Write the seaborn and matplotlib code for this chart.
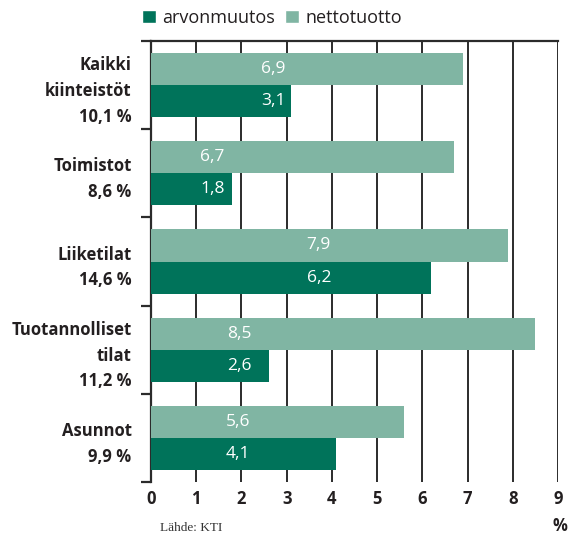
import pandas as pd
import numpy as np
import matplotlib.pyplot as plt
import seaborn as sns
from matplotlib.patches import Patch

# data
kategoriat = ["Kaikki\nkiinteistöt\n10,1 %", "Toimistot\n8,6 %", "Liiketilat\n14,6 %",
              "Tuotannolliset\ntilat\n11,2 %", "Asunnot\n9,9 %"]
nettotuotto = [6.9, 6.7, 7.9, 8.5, 5.6]
arvonmuutos = [3.1, 1.8, 6.2, 2.6, 4.1]
# where the value labels sit in the original (x, data units)
label_x = [2.70, 1.36, 3.71, 1.96, 1.93]
x_ticks = list(range(0, 10))

dark = "#00735A"
light = "#80B5A3"

df = pd.DataFrame({
    "kategoria": kategoriat * 2,
    "arvo": nettotuotto + arvonmuutos,
    "sarja": ["nettotuotto"] * 5 + ["arvonmuutos"] * 5,
})

sns.set_style("white")
plt.rcParams["font.family"] = ["Open Sans", "DejaVu Sans"]

fig = plt.figure(figsize=(5.68, 5.35), dpi=100)
ax = fig.add_axes([151 / 568, 1 - 482 / 535, 407 / 568, 441 / 535])

sns.barplot(data=df, y="kategoria", x="arvo", hue="sarja",
            hue_order=["nettotuotto", "arvonmuutos"],
            palette={"nettotuotto": light, "arvonmuutos": dark},
            orient="h", width=0.73, saturation=1, legend=False,
            errorbar=None, ax=ax, zorder=3, linewidth=0)

# value labels (white, inside bars)
for i in range(len(kategoriat)):
    ax.text(label_x[i], i - 0.1825, f"{nettotuotto[i]:.1f}".replace(".", ","),
            color="white", ha="center", va="center", fontsize=12.5, zorder=4)
    ax.text(label_x[i], i + 0.1825, f"{arvonmuutos[i]:.1f}".replace(".", ","),
            color="white", ha="center", va="center", fontsize=12.5, zorder=4)

ax.set_xlim(0, 9)
ax.set_ylim(4.5, -0.5)
ax.set_xticks(x_ticks)
ax.set_xticklabels([str(t) for t in x_ticks], fontsize=12, fontweight="bold",
                   color="#231f20")
ax.tick_params(axis="x", length=0, pad=6)
for t in x_ticks[1:]:
    ax.axvline(t, color="#2b2b2b", lw=1.4, zorder=1)

ax.set_yticks(range(len(kategoriat)))
ax.set_yticklabels(kategoriat, fontsize=12, fontweight="bold", color="#231f20",
                   linespacing=1.55, ha="right")
ax.tick_params(axis="y", which="major", length=0, pad=14)
ax.set_yticks(np.arange(-0.5, 5, 1), minor=True)
ax.tick_params(axis="y", which="minor", length=7, width=1.6, color="#2b2b2b", left=True)

ax.set_xlabel("")
ax.set_ylabel("")
for side in ["left", "top"]:
    ax.spines[side].set_visible(True)
    ax.spines[side].set_color("#2b2b2b")
    ax.spines[side].set_linewidth(1.6)
ax.spines["right"].set_visible(False)
ax.spines["bottom"].set_visible(False)

handles = [Patch(facecolor=dark, label="arvonmuutos"),
           Patch(facecolor=light, label="nettotuotto")]
fig.legend(handles=handles, loc="center", bbox_to_anchor=(272 / 568, 1 - 18 / 535),
           ncol=2, frameon=False, fontsize=13, handlelength=0.75, handleheight=0.75,
           handletextpad=0.35, columnspacing=0.6, labelcolor="#231f20")

fig.text(560 / 568, 1 - 526 / 535, "%", fontsize=12, fontweight="bold",
         ha="center", va="center", color="#231f20")
fig.text(160 / 568, 1 - 528 / 535, "Lähde: KTI", fontsize=9.5,
         family="Liberation Serif", ha="left", va="center", color="#333333")

fig.savefig("out.png", dpi=100)
